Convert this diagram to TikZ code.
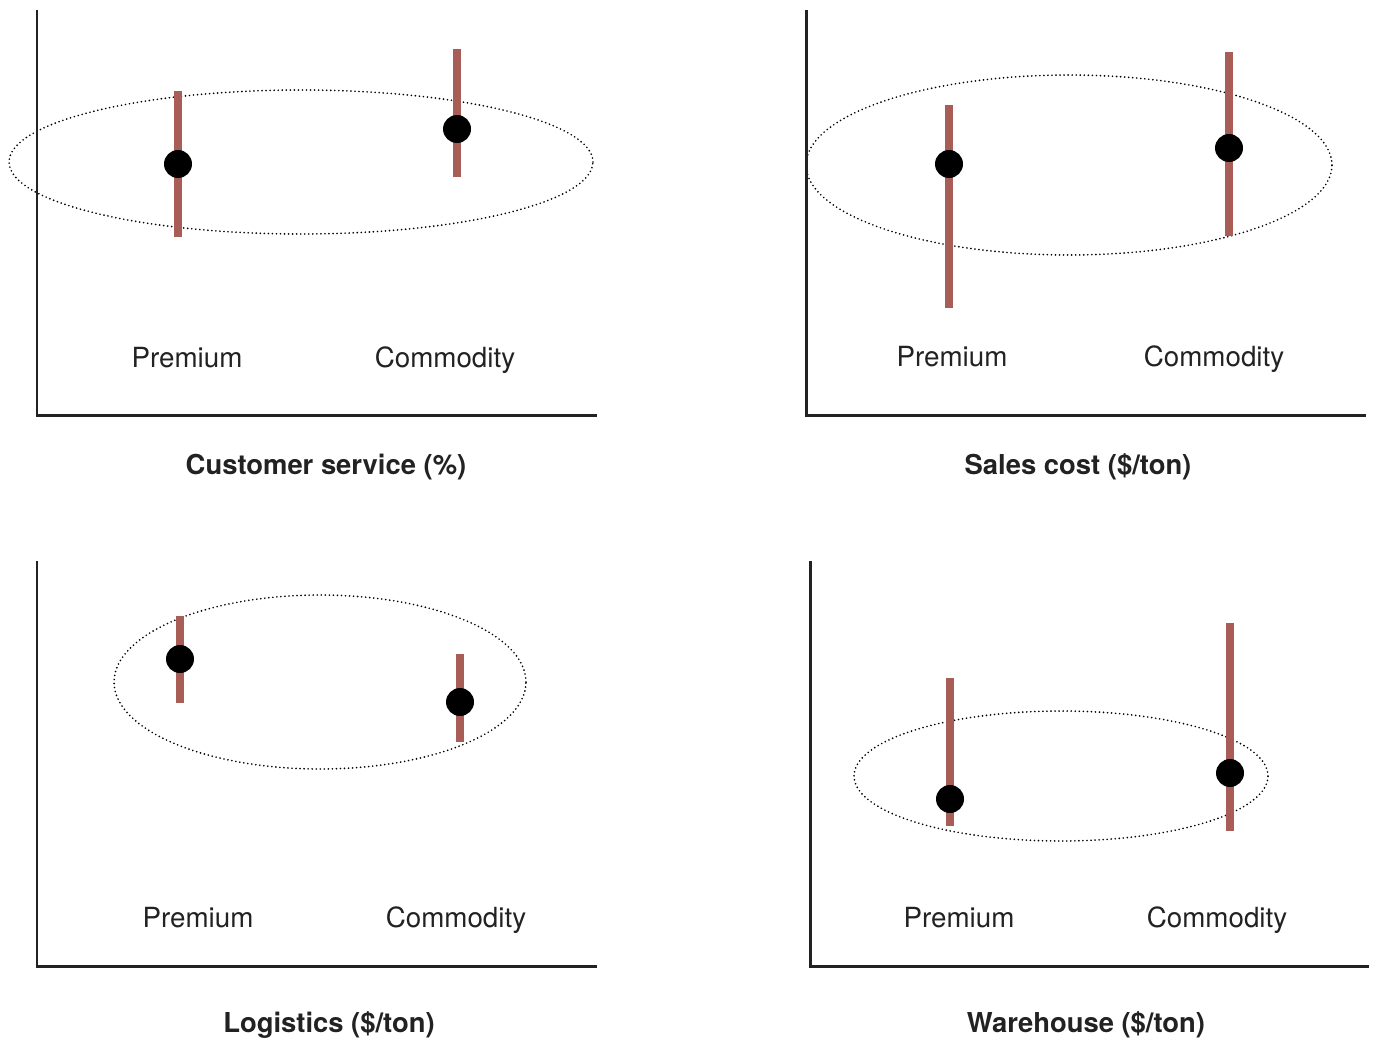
\documentclass[tikz,border=0pt]{standalone}
\usepackage{fontspec}
\setmainfont{TeX Gyre Heros}
\definecolor{barred}{HTML}{A85E56}
\definecolor{axisgray}{HTML}{222222}
\tikzset{
  axisline/.style={draw=axisgray, line width=1.7pt},
  rangebar/.style={draw=barred, line width=4.6pt},
  meanpt/.style={fill=black},
  groupring/.style={draw=black, line width=1.05pt, line cap=round, dash pattern=on 0pt off 2.3pt},
  catlabel/.style={anchor=base, inner sep=0pt, font=\fontsize{15.8}{18}\selectfont, text=axisgray},
  paneltitle/.style={anchor=base, inner sep=0pt, font=\fontsize{15.6}{18}\selectfont\bfseries, text=axisgray},
}
\begin{document}
\begin{tikzpicture}[x=0.02cm, y=-0.02cm]
\useasboundingbox (0,0) rectangle (1375,1038);

% ---- Customer service ----
\draw[groupring] (301,162) ellipse [x radius=5.84cm, y radius=1.44cm];
\draw[rangebar] (178,91) -- (178,237);
\fill[meanpt] (178,164) circle [radius=0.28cm];
\draw[rangebar] (457,49) -- (457,177);
\fill[meanpt] (457,129) circle [radius=0.28cm];
\draw[axisline] (37,10) -- (37,415) -- (597,415);
\node[catlabel] (p1) at (187,367) {Premium};
\node[catlabel] (c1) at (445,367) {Commodity};
\node[paneltitle] (t1) at (326,474) {Customer service (\%)};

% ---- Sales cost ----
\draw[groupring] (1069,165) ellipse [x radius=5.26cm, y radius=1.80cm];
\draw[rangebar] (949,105) -- (949,308);
\fill[meanpt] (949,164) circle [radius=0.28cm];
\draw[rangebar] (1229,52) -- (1229,236);
\fill[meanpt] (1229,148) circle [radius=0.28cm];
\draw[axisline] (806,10) -- (806,415) -- (1366,415);
\node[catlabel] (p2) at (952,366) {Premium};
\node[catlabel] (c2) at (1214,366) {Commodity};
\node[paneltitle] (t2) at (1078,474) {Sales cost (\$/ton)};

% ---- Logistics ----
\draw[groupring] (320,682) ellipse [x radius=4.12cm, y radius=1.74cm];
\draw[rangebar] (180,616) -- (180,703);
\fill[meanpt] (180,659) circle [radius=0.28cm];
\draw[rangebar] (460,654) -- (460,742);
\fill[meanpt] (460,702) circle [radius=0.28cm];
\draw[axisline] (37,561) -- (37,966) -- (597,966);
\node[catlabel] (p3) at (198,927) {Premium};
\node[catlabel] (c3) at (456,927) {Commodity};
\node[paneltitle] (t3) at (329,1032) {Logistics (\$/ton)};

% ---- Warehouse ----
\draw[groupring] (1061,776) ellipse [x radius=4.14cm, y radius=1.30cm];
\draw[rangebar] (950,678) -- (950,826);
\fill[meanpt] (950,799) circle [radius=0.28cm];
\draw[rangebar] (1230,623) -- (1230,831);
\fill[meanpt] (1230,773) circle [radius=0.28cm];
\draw[axisline] (810,561) -- (810,966) -- (1369,966);
\node[catlabel] (p4) at (959,927) {Premium};
\node[catlabel] (c4) at (1217,927) {Commodity};
\node[paneltitle] (t4) at (1086,1032) {Warehouse (\$/ton)};
\end{tikzpicture}
\end{document}
